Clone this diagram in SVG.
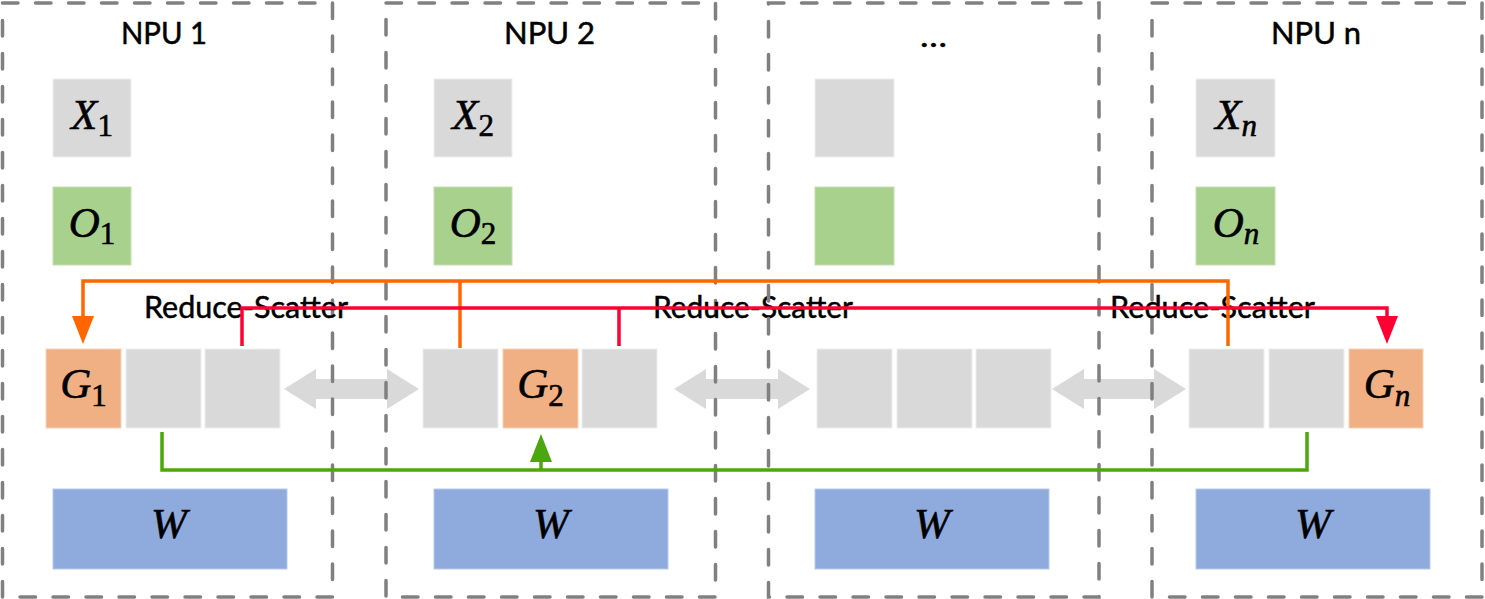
<svg xmlns="http://www.w3.org/2000/svg" width="1485" height="599" viewBox="0 0 1485 599">
<defs>
<style>
.panel{fill:none;stroke:#808080;stroke-width:3.5;stroke-dasharray:15.5 17.5;stroke-linecap:round}
.gray{fill:#d9d9d9;stroke:#eeeeee;stroke-width:1}
.green{fill:#a9d18e;stroke:#c4e0b0;stroke-width:1}
.orange{fill:#f0b083;stroke:#f8d2b8;stroke-width:1}
.blue{fill:#8faadc;stroke:#b8c9ea;stroke-width:1}
.dbl{fill:#d9d9d9}
.lbl{font-family:Lato,"Liberation Sans",sans-serif;font-size:30px;fill:#000;stroke:#000;stroke-width:0.5}
.math{font-family:"Liberation Serif","DejaVu Serif",serif;font-style:italic;font-size:43px;fill:#000;stroke:#000;stroke-width:0.6;text-anchor:middle}
.sub{font-size:31px}
.up{font-style:normal}
.c{fill:none;stroke-width:3.5;stroke-linejoin:miter}
.co{stroke:#ff6600}
.cr{stroke:#ff0033}
.cg{stroke:#4ca70f}
</style>
<marker id="ao" markerUnits="userSpaceOnUse" markerWidth="28" markerHeight="22" viewBox="0 0 28 22" refX="0" refY="11" orient="auto"><path d="M0,0 L28,11 L0,22 Z" fill="#ff6600"/></marker>
<marker id="ar" markerUnits="userSpaceOnUse" markerWidth="28" markerHeight="22" viewBox="0 0 28 22" refX="0" refY="11" orient="auto"><path d="M0,0 L28,11 L0,22 Z" fill="#ff0033"/></marker>
<marker id="ag" markerUnits="userSpaceOnUse" markerWidth="28" markerHeight="22" viewBox="0 0 28 22" refX="0" refY="11" orient="auto"><path d="M0,0 L28,11 L0,22 Z" fill="#4ca70f"/></marker>
</defs>
<rect width="1485" height="599" fill="#fff"/>

<g id="links-bidir">
<path class="dbl" d="M284,389 L316,369 L316,379 L387,379 L387,369 L419,389 L387,409 L387,399 L316,399 L316,409 Z"/>
<path class="dbl" d="M674,389 L706,369 L706,379 L778,379 L778,369 L810,389 L778,409 L778,399 L706,399 L706,409 Z"/>
<path class="dbl" d="M1052,389 L1084,369 L1084,379 L1154,379 L1154,369 L1186,389 L1154,409 L1154,399 L1084,399 L1084,409 Z"/>
</g>

<g id="npu1">
<rect class="panel" x="2.5" y="3" width="330" height="594"/>
<text class="lbl" x="121" y="44" textLength="86" lengthAdjust="spacingAndGlyphs">NPU 1</text>
<g id="x1"><rect class="gray" x="53" y="79" width="78" height="78"/><text class="math" x="92" y="129">X<tspan class="sub up" dy="7">1</tspan></text></g>
<g id="o1"><rect class="green" x="53" y="187" width="78" height="78"/><text class="math" x="92" y="237">O<tspan class="sub up" dy="7">1</tspan></text></g>
<g id="g1"><rect class="orange" x="46" y="349" width="75" height="79"/><text class="math" x="83.5" y="398">G<tspan class="sub up" dy="8">1</tspan></text></g>
<g id="b1b"><rect class="gray" x="126" y="349" width="75" height="79"/></g>
<g id="b1c"><rect class="gray" x="205" y="349" width="75" height="79"/></g>
<g id="w1"><rect class="blue" x="53" y="489" width="234" height="80"/><text class="math" x="169" y="538">W</text></g>
<text class="lbl" x="144" y="318" textLength="204" lengthAdjust="spacingAndGlyphs">Reduce-Scatter</text>
</g>

<g id="npu2">
<rect class="panel" x="386" y="3" width="329.5" height="594"/>
<text class="lbl" x="504" y="44" textLength="91" lengthAdjust="spacingAndGlyphs">NPU 2</text>
<g id="x2"><rect class="gray" x="434" y="79" width="78" height="78"/><text class="math" x="473" y="129">X<tspan class="sub up" dy="7">2</tspan></text></g>
<g id="o2"><rect class="green" x="434" y="187" width="78" height="78"/><text class="math" x="473" y="237">O<tspan class="sub up" dy="7">2</tspan></text></g>
<g id="b2a"><rect class="gray" x="423" y="349" width="75" height="79"/></g>
<g id="g2"><rect class="orange" x="503" y="349" width="75" height="79"/><text class="math" x="540.5" y="398">G<tspan class="sub up" dy="8">2</tspan></text></g>
<g id="b2c"><rect class="gray" x="582" y="349" width="75" height="79"/></g>
<g id="w2"><rect class="blue" x="434" y="489" width="234" height="80"/><text class="math" x="551" y="538">W</text></g>
<text class="lbl" x="653" y="318" textLength="200" lengthAdjust="spacingAndGlyphs">Reduce-Scatter</text>
</g>

<g id="npu3">
<rect class="panel" x="768.5" y="3" width="330.5" height="594"/>
<text class="lbl" x="920" y="47" textLength="27" lengthAdjust="spacingAndGlyphs">…</text>
<g id="x3"><rect class="gray" x="815" y="79" width="79" height="78"/></g>
<g id="o3"><rect class="green" x="815" y="187" width="79" height="78"/></g>
<g id="b3a"><rect class="gray" x="817" y="349" width="75" height="79"/></g>
<g id="b3b"><rect class="gray" x="897" y="349" width="75" height="79"/></g>
<g id="b3c"><rect class="gray" x="976" y="349" width="75" height="79"/></g>
<g id="w3"><rect class="blue" x="815" y="489" width="234" height="80"/><text class="math" x="932" y="538">W</text></g>
</g>

<g id="npun">
<rect class="panel" x="1152" y="3" width="330" height="594"/>
<text class="lbl" x="1271" y="44" textLength="90" lengthAdjust="spacingAndGlyphs">NPU n</text>
<g id="xn"><rect class="gray" x="1196" y="79" width="79" height="78"/><text class="math" x="1236" y="129">X<tspan class="sub" dy="7">n</tspan></text></g>
<g id="on"><rect class="green" x="1196" y="187" width="79" height="78"/><text class="math" x="1236" y="237">O<tspan class="sub" dy="7">n</tspan></text></g>
<g id="bna"><rect class="gray" x="1189" y="349" width="75" height="79"/></g>
<g id="bnb"><rect class="gray" x="1269" y="349" width="75" height="79"/></g>
<g id="gn"><rect class="orange" x="1349" y="349" width="74" height="79"/><text class="math" x="1387" y="398">G<tspan class="sub" dy="8">n</tspan></text></g>
<g id="wn"><rect class="blue" x="1196" y="489" width="234" height="80"/><text class="math" x="1313" y="538">W</text></g>
<text class="lbl" x="1110" y="318" textLength="205" lengthAdjust="spacingAndGlyphs">Reduce-Scatter</text>
</g>

<g id="connectors">
<path class="c co" d="M1228,346 V281 H83 V316" marker-end="url(#ao)"/>
<path class="c co" d="M460,348 V281"/>
<path class="c cr" d="M242,346 V308 H1387 V316" marker-end="url(#ar)"/>
<path class="c cr" d="M619,346 V308"/>
<path class="c cg" d="M162,432 V470 H1307 V432"/>
<path class="c cg" d="M541,470 V462" marker-end="url(#ag)"/>
</g>
</svg>
